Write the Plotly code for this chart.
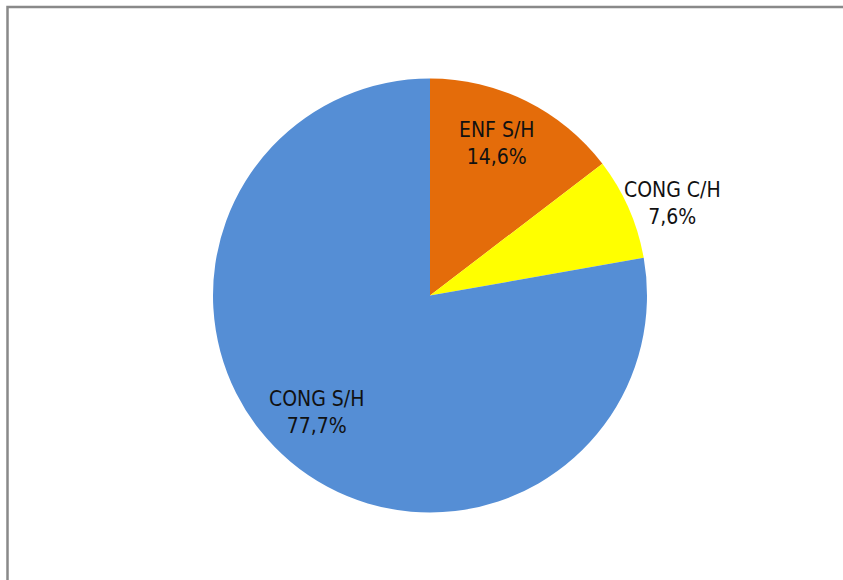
import plotly.graph_objects as go

labels = ["ENF S/H", "CONG C/H", "CONG S/H"]
values = [14.6, 7.6, 77.7]
value_text = ["14,6%", "7,6%", "77,7%"]
colors = ["#E46C0A", "#FFFF00", "#558ED5"]

W, H = 843, 580
cx, cy_top, r = 430, 295.5, 217
cy = H - cy_top

fig = go.Figure(go.Pie(
    labels=labels, values=values, sort=False, direction="clockwise", rotation=0,
    marker=dict(colors=colors, line=dict(width=0)),
    textinfo="none", hoverinfo="label+percent", showlegend=False,
    domain=dict(x=[(cx - r) / W, (cx + r) / W], y=[(cy - r) / H, (cy + r) / H]),
))

FONT = "Liberation Sans Narrow, Arial Narrow, DejaVu Sans Condensed, Liberation Sans, sans-serif"
label_pos = [(497, 143.5), (672, 203), (316, 412)]
for lab, vt, (x, y) in zip(labels, value_text, label_pos):
    fig.add_annotation(x=x / W, y=1 - y / H, xref="paper", yref="paper",
                       text=f"{lab}<br>{vt}", showarrow=False,
                       xanchor="center", yanchor="middle",
                       font=dict(family=FONT, size=21, color="#111111"))

# chart frame
fig.add_shape(type="rect", xref="paper", yref="paper",
              x0=7.5 / W, y0=-0.05, x1=1.05, y1=1 - 7 / H,
              line=dict(color="#898989", width=2.5), fillcolor="rgba(0,0,0,0)")

fig.update_layout(width=W, height=H, margin=dict(l=0, r=0, t=0, b=0),
                  paper_bgcolor="white", plot_bgcolor="white")
fig.write_html("out.html", config={"displayModeBar": False},
               post_script="document.body.style.margin='0';document.body.style.overflow='hidden';")
